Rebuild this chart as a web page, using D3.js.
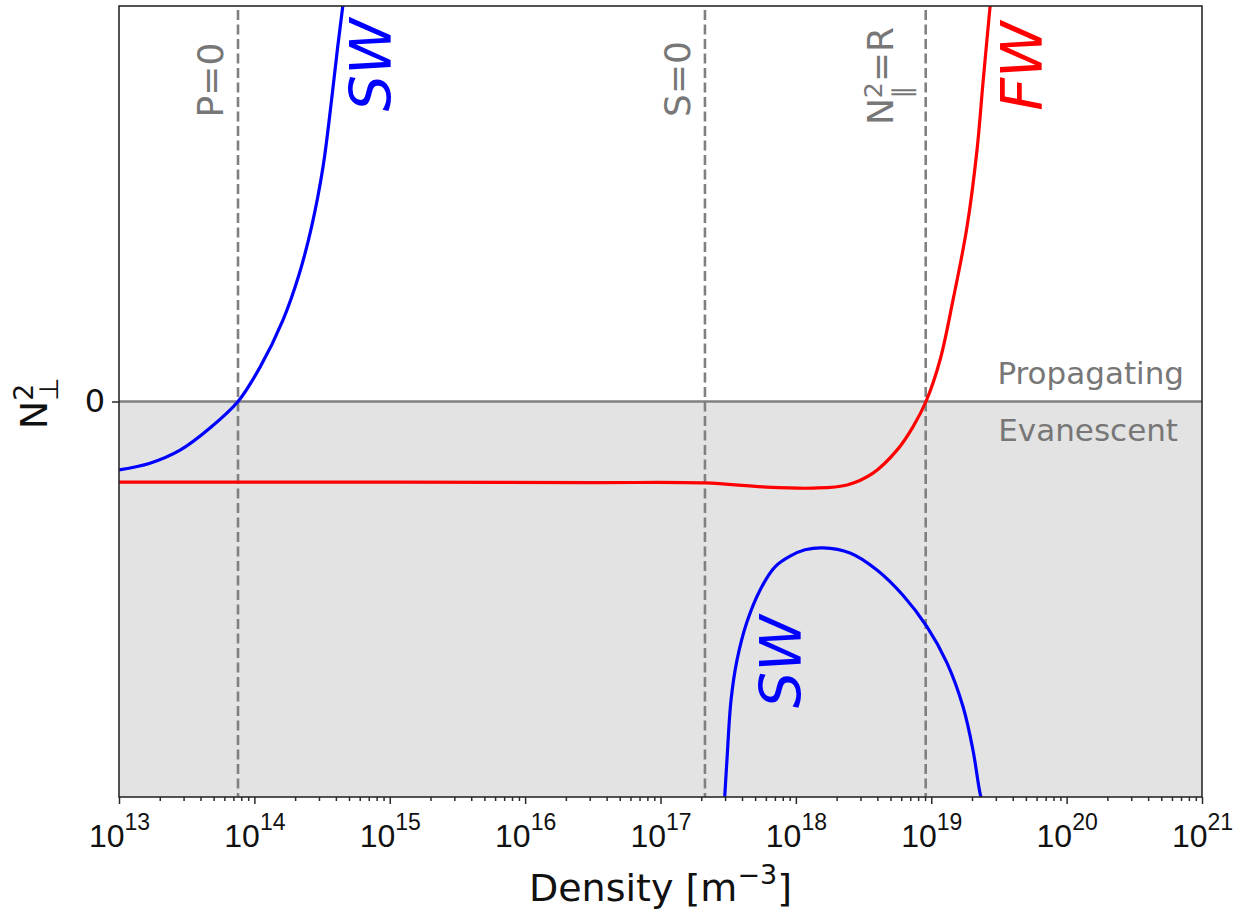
<!DOCTYPE html>
<html>
<head>
<meta charset="utf-8">
<script src="https://cdn.jsdelivr.net/npm/d3@7"></script>
<style>
  body { margin: 0; background: #fff; }
  svg { font-family: "DejaVu Sans", sans-serif; }
</style>
</head>
<body>
<div id="chart"></div>
<script>
// Dispersion of N_perp^2 vs density (log10 of density, N^2 in normalised units).
const decades = [13, 14, 15, 16, 17, 18, 19, 20, 21];

const swUpperLogN = [13.0, 13.229, 13.451, 13.672, 13.879, 14.042, 14.211, 14.329, 14.422, 14.507, 14.570, 14.615, 14.652, 14.681];
const swUpperN2   = [-0.173, -0.156, -0.123, -0.067, 0, 0.087, 0.206, 0.320, 0.441, 0.593, 0.762, 0.895, 0.997, 1.07];

const fwLogN = [13.0, 15.0, 16.5, 17.329, 17.757, 18.127, 18.378, 18.570, 18.747, 18.865, 18.961, 19.065, 19.161, 19.264, 19.338, 19.382, 19.434, 19.45];
const fwN2   = [-0.204, -0.204, -0.205, -0.206, -0.216, -0.219, -0.211, -0.181, -0.123, -0.064, 0, 0.105, 0.257, 0.441, 0.636, 0.805, 0.997, 1.05];

const swLowerLogN = [17.473, 17.491, 17.521, 17.565, 17.639, 17.735, 17.846, 17.957, 18.068, 18.200, 18.400, 18.599, 18.791, 18.969, 19.116, 19.235, 19.308, 19.360, 19.382];
const swLowerN2   = [-1.008, -0.906, -0.755, -0.654, -0.557, -0.477, -0.418, -0.391, -0.375, -0.370, -0.383, -0.426, -0.490, -0.570, -0.661, -0.772, -0.881, -0.990, -1.02];

// Cut-offs / resonances (dashed lines).
const cutoffDensity = [7.57e13, 2.13e17, 9.1e18];
const cutoffLabels = [
  [{t: "P=0"}],
  [{t: "S=0"}],
  [{t: "N"}, {t: "2", pos: "sup", shift: -0.3}, {t: "∥", pos: "sub", stack: true, shift: 0.5}, {t: "=R"}]
];
const cutoffFont = [36, 36, 36];
const cutoffOffset = [15, 15, 33];
const cutoffCenter = [80, 79, 76];

const width = 1255, height = 919;
const margin = {left: 119, right: 53, top: 6, bottom: 122};

const svg = d3.select("#chart").append("svg")
  .attr("width", width).attr("height", height);

const x = d3.scaleLog().domain([1e13, 1e21]).range([margin.left, width - margin.right]);
const y = d3.scaleLinear().domain([-1, 1]).range([height - margin.bottom, margin.top]);

const pts = (logn, vals) => logn.map((e, i) => ({n: Math.pow(10, e), v: vals[i]}));

svg.append("clipPath").attr("id", "clip")
  .append("rect")
  .attr("x", x.range()[0]).attr("y", y.range()[1])
  .attr("width", x.range()[1] - x.range()[0])
  .attr("height", y.range()[0] - y.range()[1]);

const plot = svg.append("g").attr("clip-path", "url(#clip)");

// evanescent region
plot.append("rect")
  .attr("x", x.range()[0]).attr("y", y(0))
  .attr("width", x.range()[1] - x.range()[0])
  .attr("height", y(-1) - y(0))
  .attr("fill", "#e3e3e3");

plot.append("line")
  .attr("x1", x.range()[0]).attr("x2", x.range()[1])
  .attr("y1", y(0)).attr("y2", y(0))
  .attr("stroke", "#808080").attr("stroke-width", 2.6);

// dashed cut-off lines
plot.selectAll("line.cutoff")
  .data(cutoffDensity)
  .enter().append("line")
  .attr("class", "cutoff")
  .attr("x1", d => x(d)).attr("x2", d => x(d))
  .attr("y1", y(1) + 4).attr("y2", y(-1))
  .attr("stroke", "#808080").attr("stroke-width", 2.6)
  .attr("stroke-dasharray", "10,4.5");

const line = d3.line()
  .x(d => x(d.n)).y(d => y(d.v))
  .curve(d3.curveCatmullRom.alpha(0.5));

const curves = [
  {data: pts(swUpperLogN, swUpperN2), color: "#0000ff"},
  {data: pts(fwLogN, fwN2), color: "#ff0000"},
  {data: pts(swLowerLogN, swLowerN2), color: "#0000ff"}
];

plot.selectAll("path.curve")
  .data(curves)
  .enter().append("path")
  .attr("class", "curve")
  .attr("d", d => line(d.data))
  .attr("fill", "none")
  .attr("stroke", d => d.color)
  .attr("stroke-width", 3.2);


// Rich text with sup / sub pieces, returns total advance.
function richText(g, parts, size, color){
  let cx = 0, lastStart = 0, lastW = 0;
  parts.forEach(p => {
    const pos = p.pos || "base";
    const fs = pos === "base" ? size : size * 0.7;
    let dy = pos === "sup" ? -0.42 * size : pos === "sub" ? 0.22 * size : 0;
    if(p.shift !== undefined) dy = p.shift * size;
    let start = p.stack ? lastStart : cx;
    const t = g.append("text")
      .attr("x", start).attr("y", dy)
      .style("font-size", fs + "px")
      .attr("fill", color)
      .text(p.t);
    const w = t.node().getComputedTextLength();
    if(p.stack){
      cx = start + Math.max(lastW, w);
    } else {
      cx = start + w;
    }
    lastStart = start; lastW = w;
  });
  return cx;
}

// vertical labels next to dashed lines
cutoffLabels.forEach((parts, i) => {
  const g = svg.append("g")
    .attr("transform", `translate(${x(cutoffDensity[i]) - cutoffOffset[i]},${cutoffCenter[i]}) rotate(-90)`);
  const inner = g.append("g");
  const w = richText(inner, parts, cutoffFont[i], "#777");
  inner.attr("transform", `translate(${-w/2},0)`);
});

// wave labels
const waveLabels = [
  {t: "SW", n: 7.15e14, v: 0.851, color: "#0000ff"},
  {t: "FW", n: 4.67e19, v: 0.848, color: "#ff0000"},
  {t: "SW", n: 7.74e17, v: -0.658, color: "#0000ff"}
];
svg.selectAll("text.wave")
  .data(waveLabels)
  .enter().append("text")
  .attr("class", "wave")
  .attr("transform", d => `translate(${x(d.n)},${y(d.v)}) rotate(-90)`)
  .attr("text-anchor", "middle")
  .attr("dy", "0.36em")
  .style("font-size", "57px")
  .style("font-style", "italic")
  .attr("fill", d => d.color)
  .text(d => d.t);

// region labels
svg.append("text")
  .attr("x", x(1e21) - 18).attr("y", y(0) - 18)
  .attr("text-anchor", "end")
  .style("font-size", "31px").attr("fill", "#777")
  .text("Propagating");
svg.append("text")
  .attr("x", x(1e21) - 24).attr("y", y(0) + 39)
  .attr("text-anchor", "end")
  .style("font-size", "31px").attr("fill", "#777")
  .text("Evanescent");

// frame
svg.append("rect")
  .attr("x", x.range()[0]).attr("y", y.range()[1])
  .attr("width", x.range()[1] - x.range()[0])
  .attr("height", y.range()[0] - y.range()[1])
  .attr("fill", "none").attr("stroke", "#2a2a2a").attr("stroke-width", 1.6);

// x axis
const minor = [];
decades.slice(0, -1).forEach(e => { for(let k = 2; k < 10; k++) minor.push(k * Math.pow(10, e)); });

const xMinor = svg.append("g")
  .attr("transform", `translate(0,${y.range()[0]})`)
  .call(d3.axisBottom(x).tickValues(minor).tickSize(4).tickFormat(() => ""));
const xMajor = svg.append("g")
  .attr("transform", `translate(0,${y.range()[0]})`)
  .call(d3.axisBottom(x).tickValues(decades.map(e => Math.pow(10, e))).tickSize(7).tickFormat(() => ""));
[xMinor, xMajor].forEach(a => {
  a.select(".domain").remove();
  a.selectAll(".tick line").attr("stroke", "#2a2a2a").attr("stroke-width", 1.5);
});

xMajor.selectAll(".tick").each(function(d){
  const t = d3.select(this).append("text")
    .attr("y", 50).attr("text-anchor", "middle")
    .attr("fill", "#111")
    .style("font-size", "32px");
  t.append("tspan").text("10");
  t.append("tspan").attr("dy", -17).style("font-size", "23px").text(Math.round(Math.log10(d)));
});

const xLabel = svg.append("text")
  .attr("x", (x.range()[0] + x.range()[1]) / 2).attr("y", 901)
  .attr("text-anchor", "middle")
  .attr("fill", "#111")
  .style("font-size", "38px");
xLabel.append("tspan").text("Density [m");
xLabel.append("tspan").attr("dy", -17).style("font-size", "27px").text("−3");
xLabel.append("tspan").attr("dy", 17).text("]");

// y axis
const yAxis = svg.append("g")
  .attr("transform", `translate(${x.range()[0]},0)`)
  .call(d3.axisLeft(y).tickValues([0]).tickSize(7).tickPadding(7).tickFormat(d3.format("d")));
yAxis.select(".domain").remove();
yAxis.selectAll(".tick line").attr("stroke", "#2a2a2a").attr("stroke-width", 1.5);
yAxis.selectAll(".tick text").style("font-size", "32px").attr("fill", "#111").style("font-family", "DejaVu Sans");

const yl = svg.append("g").attr("transform", `translate(47,${y(0) + 2}) rotate(-90)`);
const ylInner = yl.append("g");
const ylw = richText(ylInner, [{t: "N"}, {t: "2", pos: "sup", shift: -0.36}, {t: "⊥", pos: "sub", stack: true, shift: 0.3}], 38, "#111");
ylInner.attr("transform", `translate(${-ylw/2},0)`);
</script>
</body>
</html>
